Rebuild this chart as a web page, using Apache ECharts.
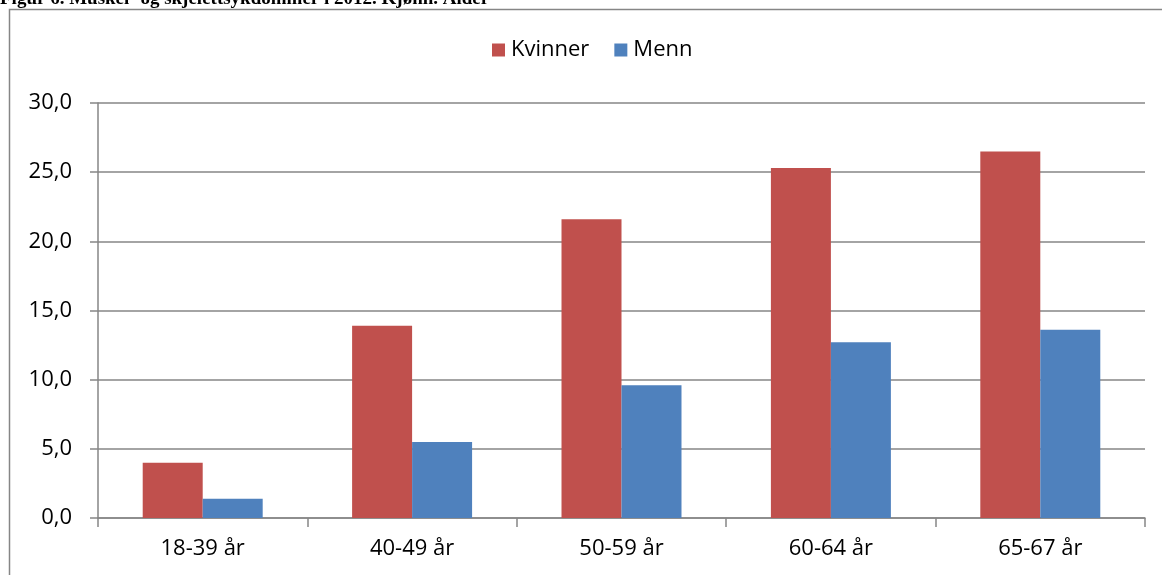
<!DOCTYPE html>
<html><head><meta charset="utf-8">
<script src="https://cdn.jsdelivr.net/npm/echarts@6/dist/echarts.min.js"></script>
<style>html,body{margin:0;padding:0;background:#fff}#c{width:1162px;height:575px}</style>
</head><body><div id="c"></div>
<script>
const categories = ['18-39 år','40-49 år','50-59 år','60-64 år','65-67 år'];
const kvinner = [4.0, 13.9, 21.6, 25.3, 26.5];
const menn = [1.4, 5.5, 9.6, 12.7, 13.6];
const seriesNames = ['Kvinner','Menn'];
const titleText = 'Figur 6. Muskel- og skjelettsykdommer i 2012. Kjønn. Alder';

const chart = echarts.init(document.getElementById('c'), null, {renderer:'canvas'});
const font = '"Open Sans", "Noto Sans", sans-serif';
chart.setOption({
  animation:false,
  backgroundColor:'#fff',
  title:{text:titleText,left:0,top:-10,padding:0,
    textStyle:{fontFamily:'"Liberation Serif", "DejaVu Serif", serif',fontWeight:'bold',fontSize:19,color:'#000'}},
  graphic:[{type:'rect',shape:{x:9.5,y:9.5,width:1300,height:700},
    style:{fill:null,stroke:'#868686',lineWidth:1.5},silent:true,z:-1}],
  legend:{top:39,left:492,padding:0,itemWidth:13,itemHeight:13,itemGap:25,icon:'rect',
    textStyle:{fontFamily:font,fontSize:22,color:'#000',padding:[0,0,0,1]},data:seriesNames},
  grid:{left:98,right:17,top:103,bottom:57,containLabel:false},
  xAxis:{type:'category',data:categories,
    axisLine:{lineStyle:{color:'#868686',width:1.5}},
    axisTick:{show:true,length:9,alignWithLabel:false,lineStyle:{color:'#868686',width:1.5}},
    axisLabel:{margin:20,fontFamily:font,fontSize:22,color:'#000'}},
  yAxis:{type:'value',min:0,max:30,interval:5,
    axisLine:{show:true,lineStyle:{color:'#868686',width:1.5}},
    axisTick:{show:true,length:8,lineStyle:{color:'#868686',width:1.5}},
    splitLine:{lineStyle:{color:'#868686',width:1.5}},
    axisLabel:{margin:26,fontFamily:font,fontSize:22,color:'#000',
      formatter:v=>v.toFixed(1).replace('.',',')}},
  series:[
    {name:seriesNames[0],type:'bar',data:kvinner,barGap:'0%',barCategoryGap:'42.7%',
     itemStyle:{color:'#C0504D'}},
    {name:seriesNames[1],type:'bar',data:menn,barGap:'0%',barCategoryGap:'42.7%',
     itemStyle:{color:'#4F81BD'}}
  ]
});
</script></body></html>
